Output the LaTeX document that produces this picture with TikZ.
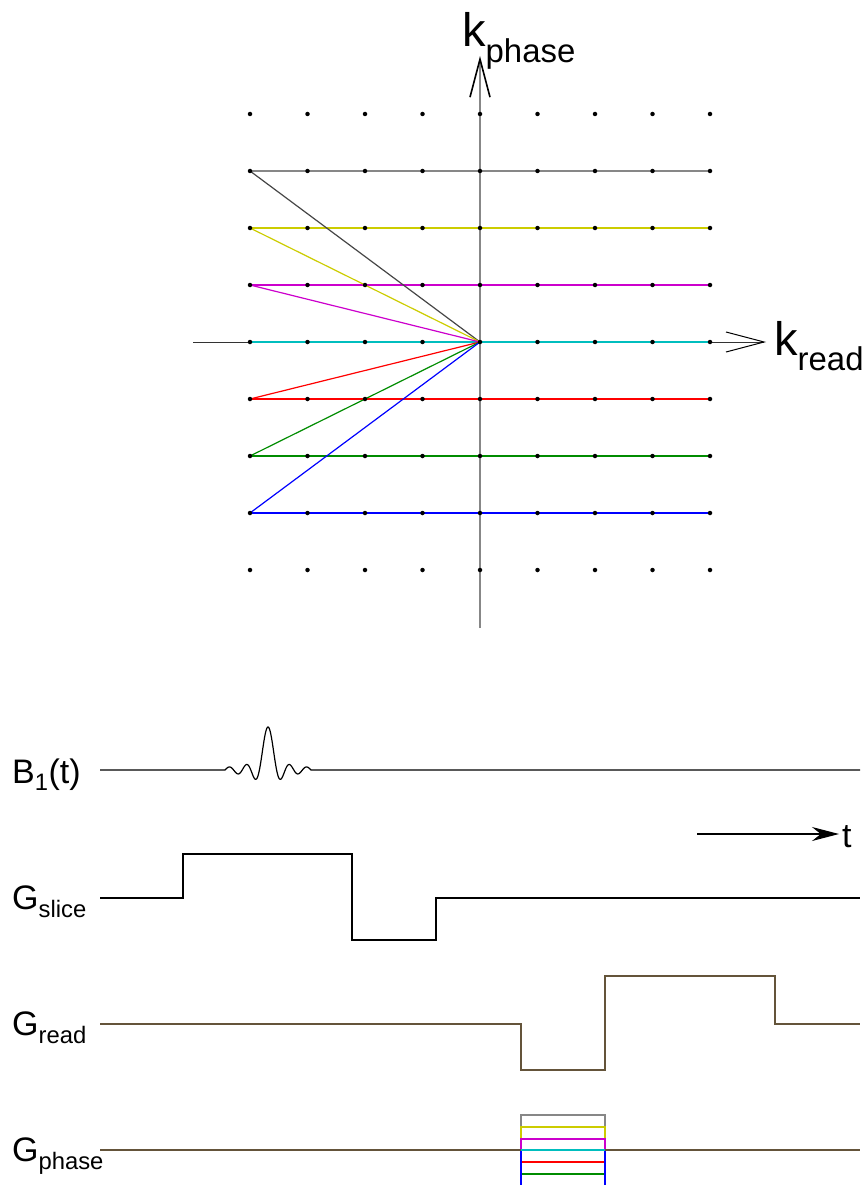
\documentclass[tikz,border=0pt]{standalone}
\usepackage{fontspec}
\setmainfont{Liberation Sans}
\usepackage{xcolor}
\usepackage{tikz}
\usetikzlibrary{arrows.meta, calc}
\definecolor{linegray}{RGB}{135,135,135}
\definecolor{linedark}{RGB}{70,70,70}
\definecolor{lineyellow}{RGB}{204,204,0}
\definecolor{linemagenta}{RGB}{204,0,204}
\definecolor{linecyan}{RGB}{0,190,190}
\definecolor{linegreen}{RGB}{0,140,0}
\definecolor{gradbrown}{RGB}{100,84,58}
\tikzstyle{dot}      = [circle, fill=black, inner sep=0pt, minimum size=4.5pt]
\tikzstyle{axis}     = [-{Straight Barb[length=38pt, width=20pt, black]}, line width=1pt]
\tikzstyle{kline}    = [line width=1.2pt]
\tikzstyle{trace}    = [line width=1.2pt]
\tikzstyle{klabel}   = [inner sep=0pt, anchor=base west, font=\fontsize{47}{50}\selectfont]
\tikzstyle{siglabel} = [inner sep=0pt, anchor=base west, font=\fontsize{34}{36}\selectfont]

\begin{document}
\begin{tikzpicture}[x=1pt, y=-1pt]
  \useasboundingbox (0,0) rectangle (867,1185);

  % k-space grid
  \foreach \i in {0,...,8}
    \foreach \j in {0,...,8}
      \coordinate (p\i\j) at ({250+57.5*\i},{114+57*\j});

  \coordinate (kx0) at (193,342);
  \coordinate (kx1) at (766,342);
  \coordinate (ky0) at (480,628);
  \coordinate (ky1) at (480,56);

  \draw[axis, black!80] (kx0) -- (kx1);
  \draw[axis, linegray, line width=1.6pt] (ky0) -- (ky1);

  \draw[kline, linegray]    (p01) -- (p81);
  \draw[kline, lineyellow]  (p02) -- (p82);
  \draw[kline, linemagenta] (p03) -- (p83);
  \draw[kline, linecyan]    (p04) -- (p84);
  \draw[kline, red]         (p05) -- (p85);
  \draw[kline, linegreen]   (p06) -- (p86);
  \draw[kline, blue]        (p07) -- (p87);

  \draw[kline, linedark]    (p44) -- (p01);
  \draw[kline, lineyellow]  (p44) -- (p02);
  \draw[kline, linemagenta] (p44) -- (p03);
  \draw[kline, red]         (p44) -- (p05);
  \draw[kline, linegreen]   (p44) -- (p06);
  \draw[kline, blue]        (p44) -- (p07);

  \foreach \i in {0,...,8}
    \foreach \j in {0,...,8}
      \node[dot] (dot\i\j) at (p\i\j) {};

  \node[klabel] (kphase) at (462,47) {k\textsubscript{phase}};
  \node[klabel] (kread) at (774,355) {k\textsubscript{read}};

  % pulse sequence
  \node[siglabel] (b1) at (12,783) {B\textsubscript{1}(t)};
  \node[siglabel] (gslice) at (12,909) {G\textsubscript{slice}};
  \node[siglabel] (gread) at (12,1035) {G\textsubscript{read}};
  \node[siglabel] (gphase) at (12,1161) {G\textsubscript{phase}};

  \draw[trace] (100,770) -- plot[domain=-5:5, samples=200, smooth]
    ({268+8.6*\x},{770-43*sin(180*\x)/(pi*\x)}) -- (860,770);

  \coordinate (t0) at (697,834);
  \coordinate (t1) at (839,834);
  \draw[-{Stealth[length=27pt, width=14pt]}, line width=1.2pt] (t0) -- (t1);
  \node[siglabel] (tlabel) at (842,847) {t};

  \draw[trace] (100,898) -- (183,898) -- (183,854) -- (352,854)
    -- (352,940) -- (436,940) -- (436,898) -- (860,898);

  \draw[trace, gradbrown] (100,1024) -- (521,1024) -- (521,1070) -- (605,1070)
    -- (605,976) -- (775,976) -- (775,1024) -- (860,1024);

  \foreach \lvl/\col in {1115/linegray, 1127/lineyellow, 1139/linemagenta,
                         1162/red, 1174/linegreen, 1188/blue}
    \draw[trace, \col] (521,1150) -- (521,\lvl) -- (605,\lvl) -- (605,1150);
  \draw[trace, linecyan] (521,1150) -- (605,1150);
  \draw[trace, gradbrown] (100,1150) -- (521,1150);
  \draw[trace, gradbrown] (605,1150) -- (860,1150);
\end{tikzpicture}
\end{document}
